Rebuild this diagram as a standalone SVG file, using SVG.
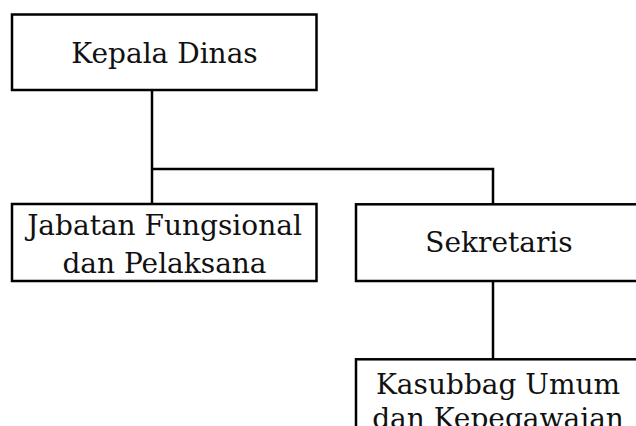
<svg xmlns="http://www.w3.org/2000/svg" width="636" height="426" viewBox="0 0 636 426">
<style>
.box{fill:#fff;stroke:#000;stroke-width:2.5}
.ln{fill:none;stroke:#000;stroke-width:2.5}
text{font-family:"DejaVu Serif","Liberation Serif",serif;font-size:28px;fill:#111;text-anchor:middle}
</style>
<rect width="636" height="426" fill="#fff"/>
<g id="connectors">
<path class="ln" d="M152,90 V204"/>
<path class="ln" d="M152,169 H493 V204"/>
<path class="ln" d="M493,281 V359"/>
</g>
<g id="kepala">
<rect class="box" x="12" y="14.5" width="304.5" height="75.5"/>
<text x="164.5" y="63">Kepala Dinas</text>
</g>
<g id="jabatan">
<rect class="box" x="12" y="204" width="304.5" height="77"/>
<text x="164.5" y="235">Jabatan Fungsional</text>
<text x="164.5" y="273">dan Pelaksana</text>
</g>
<g id="sekretaris">
<rect class="box" x="356" y="204.3" width="290" height="76.7"/>
<text x="499" y="252">Sekretaris</text>
</g>
<g id="kasubbag">
<rect class="box" x="356" y="359.3" width="290" height="90"/>
<text x="498" y="394">Kasubbag Umum</text>
<text x="498" y="428">dan Kepegawaian</text>
</g>
</svg>
